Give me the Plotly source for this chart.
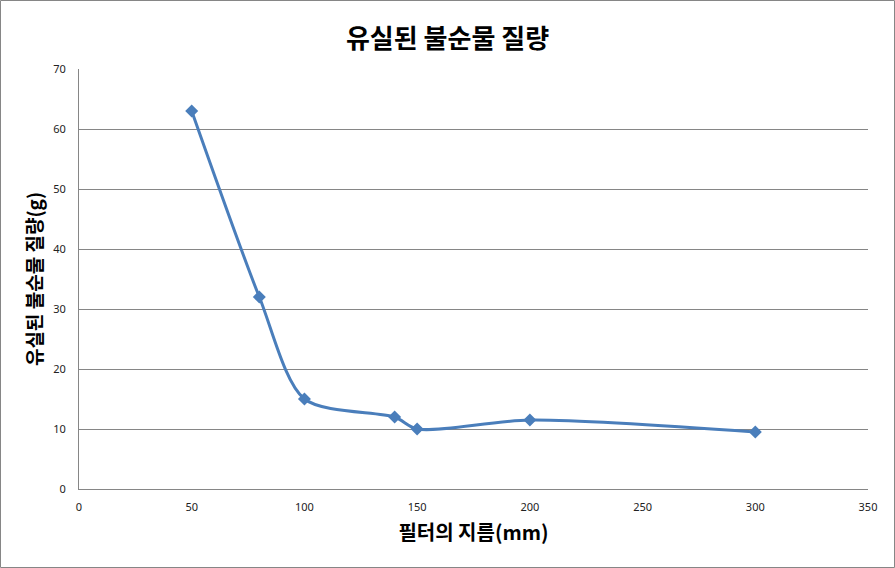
import plotly.graph_objects as go

diameters = [50, 80, 100, 140, 150, 200, 300]
masses = [63, 32, 15, 12, 10, 11.5, 9.5]

title_text = "유실된 불순물 질량"
x_title = "필터의 지름(mm)"
y_title = "유실된 불순물 질량(g)"

W, H = 895, 568
L, R, T, B = 79, 27, 69, 79
pw, ph = W - L - R, H - T - B

fig = go.Figure()
fig.add_trace(go.Scatter(
    x=diameters, y=masses, mode="lines+markers",
    line=dict(color="#4A7EBB", width=3, shape="spline", smoothing=0.8),
    marker=dict(symbol="diamond", size=10, color="#4A7EBB"),
    showlegend=False,
))

font_kr = "Noto Sans CJK KR"
fig.update_layout(
    width=W, height=H,
    margin=dict(l=L, r=R, t=T, b=B),
    paper_bgcolor="white", plot_bgcolor="white",
    title=dict(text="<b>" + title_text + "</b>", x=0.5, xanchor="center",
               y=1 - 39 / H, yanchor="middle",
               font=dict(family=font_kr, size=26, color="black")),
    font=dict(family="Noto Sans, DejaVu Sans", color="#222"),
    xaxis=dict(range=[0, 350], dtick=50, tick0=0, showgrid=False,
               showline=True, linecolor="#868686", linewidth=1, ticks="",
               zeroline=False, ticklabelstandoff=8,
               tickfont=dict(size=11, color="#222"),
               title=dict(text="<b>" + x_title + "</b>", standoff=12,
                          font=dict(family=font_kr, size=20, color="black"))),
    yaxis=dict(range=[0, 70], dtick=10, tick0=0, showgrid=True,
               gridcolor="#868686", gridwidth=1,
               showline=True, linecolor="#868686", linewidth=1, ticks="",
               zeroline=False, ticklabelstandoff=10,
               tickfont=dict(size=11, color="#222"),
               title=dict(text="<b>" + y_title + "</b>", standoff=5,
                          font=dict(family=font_kr, size=19, color="black"))),
)

fig.add_shape(type="rect", xref="paper", yref="paper",
              x0=(0.5 - L) / pw, x1=(W - 0.5 - L) / pw,
              y0=-(H - 0.5 - T - ph) / ph, y1=(H - 0.5 - B) / ph,
              line=dict(color="#868686", width=1), layer="below")

fig.write_html("out.html")
